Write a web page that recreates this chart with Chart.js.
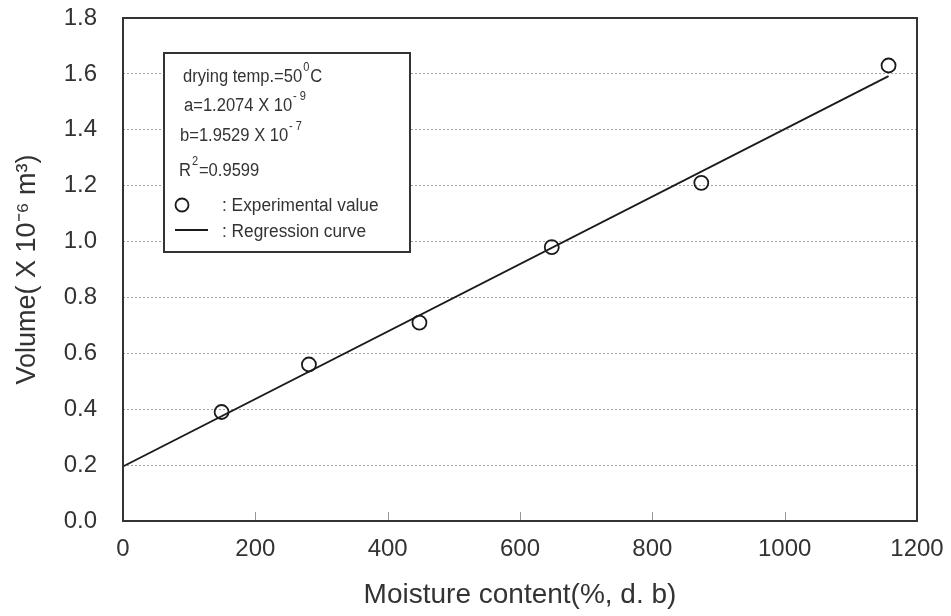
<!DOCTYPE html>
<html>
<head>
<meta charset="utf-8">
<script src="https://cdn.jsdelivr.net/npm/chart.js@4.4.0/dist/chart.umd.min.js"></script>
<style>
    body { margin: 0; background: #fff; }
</style>
</head>
<body>
<canvas id="myChart" width="951" height="616"></canvas>
<script>
    // measured points (moisture %, volume x10^-6 m3)
    var moisture = [149, 281, 448, 648, 874, 1157];
    var volume = [0.39, 0.56, 0.71, 0.98, 1.21, 1.63];

    // regression line end points
    var fitX = [0, 1157];
    var fitY = [0.195, 1.592];

    var xTicks = [0, 200, 400, 600, 800, 1000, 1200];
    var yTicks = [0, 0.2, 0.4, 0.6, 0.8, 1.0, 1.2, 1.4, 1.6, 1.8];

    // legend box text: [text, superscript] pieces
    var boxLines = [
        [['drying temp.=50', 0], ['0', 1], ['C', 0]],
        [['a=1.2074 X 10', 0], ['- 9', 1]],
        [['b=1.9529 X 10', 0], ['- 7', 1]],
        [['R', 0], ['2', 1], ['=0.9599', 0]]
    ];
    var keyLabels = [': Experimental value', ': Regression curve'];

    var txt = '#333';
    var fontName = '"Liberation Sans", Arial, sans-serif';

    var framePlugin = {
        id: 'frame',
        afterDatasetsDraw: function (chart) {
            var c = chart.ctx, a = chart.chartArea;
            var xs = chart.scales.x;
            c.save();
            // inner ticks on bottom axis
            c.strokeStyle = '#999';
            c.lineWidth = 1;
            xTicks.forEach(function (t) {
                var px = Math.round(xs.getPixelForValue(t)) + 0.5;
                c.beginPath();
                c.moveTo(px, a.bottom);
                c.lineTo(px, a.bottom - 9);
                c.stroke();
            });
            // frame
            c.strokeStyle = '#333';
            c.lineWidth = 2;
            c.strokeRect(a.left, a.top, a.right - a.left, a.bottom - a.top);

            // legend box
            var bx = 164, by = 53, bw = 246, bh = 199;
            c.fillStyle = '#fff';
            c.fillRect(bx, by, bw, bh);
            c.strokeRect(bx, by, bw, bh);

            c.fillStyle = txt;
            c.textBaseline = 'middle';
            c.textAlign = 'left';
            var ys = [77, 106, 136, 171];
            var xs0 = [183, 184, 180, 179];
            // the original font is a bit narrower
            var sq = 0.92;
            boxLines.forEach(function (line, i) {
                var x = xs0[i];
                c.save();
                c.translate(x, ys[i]);
                c.scale(sq, 1);
                var dx = 0;
                line.forEach(function (p) {
                    if (p[1]) {
                        c.font = '12px ' + fontName;
                        c.fillText(p[0], dx + 1, -9);
                        dx += c.measureText(p[0]).width + 2;
                    } else {
                        c.font = '18px ' + fontName;
                        c.fillText(p[0], dx, 0);
                        dx += c.measureText(p[0]).width;
                    }
                });
                c.restore();
            });
            c.font = '18px ' + fontName;
            // circle key
            c.strokeStyle = '#1a1a1a';
            c.lineWidth = 1.8;
            c.beginPath();
            c.arc(182, 205, 6.5, 0, Math.PI * 2);
            c.stroke();
            // line key
            c.lineWidth = 2;
            c.beginPath();
            c.moveTo(175, 230);
            c.lineTo(208, 230);
            c.stroke();
            [[206, keyLabels[0]], [232, keyLabels[1]]].forEach(function (k) {
                c.save();
                c.translate(222, k[0]);
                c.scale(0.96, 1);
                c.fillText(k[1], 0, 0);
                c.restore();
            });
            c.restore();
        }
    };

    var points = moisture.map(function (m, i) { return { x: m, y: volume[i] }; });
    var fitLine = fitX.map(function (m, i) { return { x: m, y: fitY[i] }; });

    var ctx = document.getElementById('myChart').getContext('2d');
    var chart = new Chart(ctx, {
        type: 'scatter',
        data: {
            datasets: [{
                type: 'line',
                label: 'Regression curve',
                data: fitLine,
                borderColor: '#1a1a1a',
                borderWidth: 1.8,
                pointRadius: 0,
                fill: false,
                order: 2
            }, {
                label: 'Experimental value',
                data: points,
                pointRadius: 7,
                borderColor: '#1a1a1a',
                borderWidth: 1.8,
                backgroundColor: 'rgba(0,0,0,0)',
                order: 1
            }]
        },
        options: {
            responsive: false,
            animation: false,
            layout: { padding: { left: 0, right: 34, top: 18, bottom: 0 } },
            plugins: {
                legend: { display: false },
                tooltip: { enabled: false }
            },
            scales: {
                x: {
                    type: 'linear',
                    min: 0,
                    max: 1200,
                    afterBuildTicks: function (s) { s.ticks = xTicks.map(function (v) { return { value: v }; }); },
                    afterFit: function (s) {
                        s.height = 95;
                        s.paddingLeft = 0;
                        s.paddingRight = 0;
                    },
                    ticks: {
                        color: txt,
                        font: { family: fontName, size: 24 },
                        padding: 14,
                        maxRotation: 0,
                        callback: function (v) { return String(v); }
                    },
                    grid: { display: false, drawTicks: false },
                    border: { display: false },
                    title: {
                        display: true,
                        text: 'Moisture content(%, d. b)',
                        color: txt,
                        font: { family: fontName, size: 28 },
                        padding: { top: 4, bottom: 4 }
                    }
                },
                y: {
                    min: 0,
                    max: 1.8,
                    afterBuildTicks: function (s) { s.ticks = yTicks.map(function (v) { return { value: v }; }); },
                    afterFit: function (s) {
                        s.width = 123;
                        s.paddingTop = 0;
                        s.paddingBottom = 0;
                    },
                    ticks: {
                        color: txt,
                        font: { family: fontName, size: 24 },
                        padding: 26,
                        callback: function (v) { return v.toFixed(1); }
                    },
                    grid: {
                        drawTicks: false,
                        color: function (c) {
                            var v = c.tick ? c.tick.value : 0;
                            return (v === 0 || v === 1.8) ? 'rgba(0,0,0,0)' : '#a0a0a0';
                        },
                        lineWidth: 1
                    },
                    border: { display: false, dash: [2, 2] },
                    title: {
                        display: true,
                        text: 'Volume( X 10\u207B\u2076 m\u00B3)',
                        color: txt,
                        font: { family: fontName, size: 27 },
                        padding: { top: 11, bottom: 11 }
                    }
                }
            }
        },
        plugins: [framePlugin]
    });
</script>
</body>
</html>
